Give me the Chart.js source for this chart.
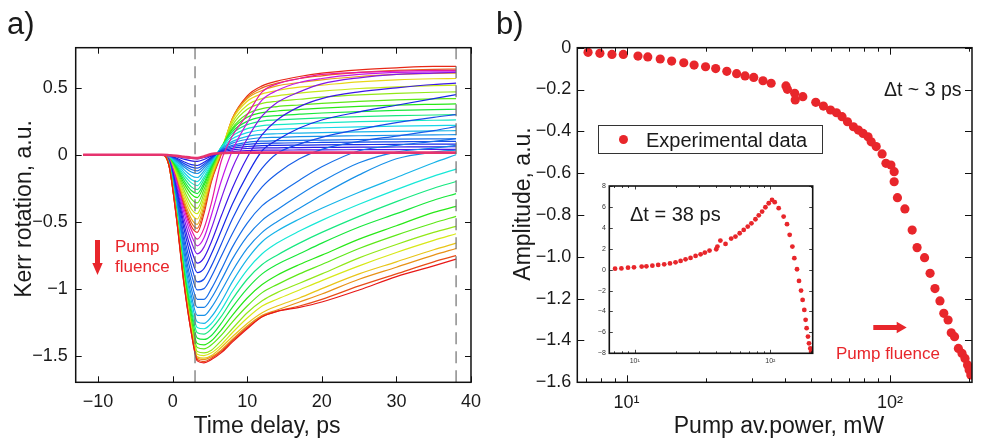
<!DOCTYPE html>
<html>
<head>
<meta charset="utf-8">
<script src="https://cdn.jsdelivr.net/npm/chart.js@4.4.1/dist/chart.umd.min.js"></script>
<style>
  body { margin: 0; background: #fff; }
  #wrap { position: relative; width: 982px; height: 443px; overflow: hidden;
          font-family: 'Liberation Sans', Arial, sans-serif; color: #1a1a1a; }
  canvas { position: absolute; }
  .t { position: absolute; white-space: nowrap; line-height: 1; }
  .red { color: #e8262b; }
  .rot { transform: translate(-50%, -50%) rotate(-90deg); }
  .ctr { transform: translateX(-50%); }
  svg { position: absolute; }
  #legend { position: absolute; left: 598px; top: 125px; width: 225px; height: 29px;
            border: 1px solid #333; box-sizing: border-box; background: #fff; }
  #legend i { position: absolute; left: 20px; top: 9px; width: 9px; height: 9px;
              border-radius: 50%; background: #e8262b; }
</style>
</head>
<body>
<div id="wrap">
  <canvas id="kerr" width="490" height="443" style="left:0;top:0"></canvas>
  <canvas id="amp" width="492" height="443" style="left:490px;top:0"></canvas>

  <div class="t" style="left:7px;top:8px;font-size:31px">a)</div>
  <div class="t" style="left:496px;top:8px;font-size:31px">b)</div>

  <div class="t rot" style="left:22.5px;top:209px;font-size:23px">Kerr rotation, a.u.</div>
  <div class="t ctr" style="left:267px;top:414px;font-size:23px">Time delay, ps</div>
  <div class="t rot" style="left:522px;top:204px;font-size:23px">Amplitude, a.u.</div>
  <div class="t ctr" style="left:779px;top:414px;font-size:23px">Pump av.power, mW</div>

  <svg style="left:90px;top:238px" width="16" height="40">
    <path d="M5 2 H10 V25 H12.7 L7.5 37 L2.3 25 H5 Z" fill="#e8262b"/>
  </svg>
  <div class="t red" style="left:115px;top:238px;font-size:17px">Pump</div>
  <div class="t red" style="left:115px;top:258px;font-size:17px">fluence</div>

  <div class="t" style="left:884px;top:80px;font-size:19.5px">Δt ~ 3 ps</div>
  <div id="legend"><i></i><span class="t" style="left:47px;top:4px;font-size:20px">Experimental data</span></div>

  <canvas id="inset" width="250" height="200" style="left:570px;top:176px"></canvas>
  <div class="t" style="left:630px;top:204px;font-size:20px">Δt = 38 ps</div>

  <svg style="left:870px;top:318px" width="40" height="20">
    <path d="M3.3 7 H26.7 V3.7 L36.7 9.5 L26.7 15.3 V12 H3.3 Z" fill="#e8262b"/>
  </svg>
  <div class="t red" style="left:836px;top:345px;font-size:17px">Pump fluence</div>
</div>

<script>
// ---- panel a: Kerr rotation vs time delay (ps) ----
const delay = [-12, -1.5, -0.5, 0.5, 1.5, 2.5, 3.3, 4.2, 5.2, 6.5, 8, 10, 12, 14, 17, 20, 25, 30, 35, 38];
const delayTicks = [-10, 0, 10, 20, 30, 40];
const kerrTicks = [-1.5, -1, -0.5, 0, 0.5];

// low fluence traces: shallow dip, positive plateau
const lowFluence = [
  [0, 0, -0.002, -0.01, -0.02, -0.028, -0.03, -0.02, -0.005, 0.012, 0.024, 0.031, 0.034, 0.035, 0.036, 0.037, 0.038, 0.039, 0.04, 0.04],
  [0, 0, -0.003, -0.015, -0.033, -0.046, -0.05, -0.035, -0.01, 0.018, 0.036, 0.047, 0.051, 0.052, 0.054, 0.055, 0.057, 0.058, 0.059, 0.06],
  [0, 0, -0.004, -0.024, -0.052, -0.074, -0.08, -0.056, -0.018, 0.024, 0.048, 0.062, 0.068, 0.07, 0.072, 0.074, 0.076, 0.078, 0.079, 0.08],
  [0, 0, -0.005, -0.03, -0.065, -0.092, -0.1, -0.07, -0.024, 0.03, 0.06, 0.078, 0.085, 0.087, 0.09, 0.092, 0.095, 0.097, 0.099, 0.1],
  [0, 0, -0.006, -0.036, -0.078, -0.11, -0.12, -0.084, -0.03, 0.034, 0.07, 0.093, 0.102, 0.105, 0.108, 0.11, 0.114, 0.117, 0.119, 0.12],
  [0, 0, -0.007, -0.042, -0.091, -0.129, -0.14, -0.1, -0.036, 0.04, 0.087, 0.115, 0.127, 0.13, 0.135, 0.138, 0.142, 0.146, 0.149, 0.15],
  [0, 0, -0.008, -0.05, -0.11, -0.156, -0.17, -0.12, -0.045, 0.045, 0.1, 0.138, 0.152, 0.157, 0.162, 0.166, 0.171, 0.175, 0.178, 0.18],
  [0, 0, -0.01, -0.06, -0.13, -0.184, -0.2, -0.14, -0.055, 0.05, 0.12, 0.165, 0.185, 0.19, 0.197, 0.202, 0.209, 0.214, 0.218, 0.22],
  [0, 0, -0.012, -0.07, -0.15, -0.21, -0.23, -0.165, -0.065, 0.055, 0.14, 0.195, 0.218, 0.225, 0.232, 0.238, 0.247, 0.253, 0.258, 0.26],
  [0, 0, -0.013, -0.078, -0.17, -0.24, -0.26, -0.185, -0.075, 0.055, 0.16, 0.225, 0.252, 0.26, 0.268, 0.275, 0.285, 0.292, 0.297, 0.3],
  [0, 0, -0.015, -0.087, -0.19, -0.267, -0.29, -0.21, -0.085, 0.055, 0.175, 0.25, 0.283, 0.293, 0.303, 0.312, 0.323, 0.331, 0.337, 0.34],
  [0, 0, -0.016, -0.096, -0.21, -0.294, -0.32, -0.23, -0.095, 0.05, 0.19, 0.28, 0.315, 0.327, 0.338, 0.348, 0.361, 0.371, 0.377, 0.38],
  [0, 0, -0.018, -0.108, -0.234, -0.33, -0.36, -0.26, -0.11, 0.045, 0.2, 0.305, 0.345, 0.36, 0.372, 0.384, 0.399, 0.41, 0.417, 0.42],
  [0, 0, -0.02, -0.12, -0.26, -0.368, -0.4, -0.29, -0.125, 0.04, 0.22, 0.34, 0.384, 0.4, 0.415, 0.43, 0.447, 0.459, 0.467, 0.47],
  [0, 0, -0.022, -0.132, -0.286, -0.405, -0.44, -0.32, -0.14, 0.035, 0.24, 0.37, 0.42, 0.44, 0.46, 0.475, 0.495, 0.508, 0.517, 0.52],
  [0, 0, -0.024, -0.144, -0.312, -0.44, -0.48, -0.35, -0.16, 0.03, 0.26, 0.4, 0.455, 0.48, 0.505, 0.52, 0.545, 0.56, 0.568, 0.57],
  [0, 0, -0.026, -0.156, -0.338, -0.478, -0.52, -0.38, -0.175, 0.02, 0.27, 0.42, 0.48, 0.515, 0.54, 0.56, 0.585, 0.6, 0.608, 0.61],
  [0, 0, -0.028, -0.165, -0.357, -0.506, -0.55, -0.41, -0.19, 0.01, 0.27, 0.43, 0.5, 0.535, 0.57, 0.59, 0.615, 0.63, 0.638, 0.64],
  [0, 0, -0.029, -0.174, -0.377, -0.534, -0.58, -0.44, -0.2, 0.0, 0.27, 0.44, 0.515, 0.55, 0.585, 0.61, 0.635, 0.65, 0.66, 0.66]
];

// high fluence traces: deep dip, slow recovery
const highFluence = [
  [0, 0, -0.03, -0.19, -0.4, -0.56, -0.63, -0.55, -0.36, -0.05, 0.14, 0.3, 0.47, 0.53, 0.57, 0.6, 0.615, 0.625, 0.63, 0.63],
  [0, 0, -0.03, -0.21, -0.43, -0.6, -0.68, -0.62, -0.45, -0.2, 0.03, 0.24, 0.41, 0.48, 0.54, 0.57, 0.6, 0.615, 0.62, 0.62],
  [0, 0, -0.04, -0.23, -0.47, -0.65, -0.74, -0.69, -0.55, -0.33, -0.1, 0.12, 0.29, 0.39, 0.47, 0.53, 0.575, 0.6, 0.61, 0.615],
  [0, 0, -0.04, -0.25, -0.51, -0.71, -0.81, -0.77, -0.65, -0.46, -0.25, -0.02, 0.15, 0.26, 0.36, 0.42, 0.47, 0.5, 0.525, 0.535],
  [0, 0, -0.04, -0.27, -0.55, -0.77, -0.88, -0.85, -0.74, -0.57, -0.37, -0.15, 0.03, 0.11, 0.2, 0.26, 0.32, 0.37, 0.42, 0.45],
  [0, 0, -0.05, -0.29, -0.6, -0.83, -0.95, -0.93, -0.83, -0.67, -0.48, -0.27, -0.1, 0.01, 0.08, 0.13, 0.19, 0.24, 0.28, 0.3],
  [0, 0, -0.05, -0.31, -0.64, -0.89, -1.01, -1.0, -0.91, -0.76, -0.59, -0.39, -0.24, -0.14, -0.03, 0.04, 0.1, 0.14, 0.18, 0.21],
  [0, 0, -0.06, -0.33, -0.68, -0.95, -1.08, -1.08, -1.0, -0.86, -0.69, -0.51, -0.38, -0.3, -0.19, -0.09, 0.03, 0.07, 0.1, 0.12],
  [0, 0, -0.06, -0.35, -0.72, -1.0, -1.14, -1.14, -1.07, -0.94, -0.78, -0.61, -0.49, -0.41, -0.3, -0.2, -0.06, 0.02, 0.05, 0.07],
  [0, 0, -0.06, -0.37, -0.76, -1.05, -1.2, -1.2, -1.14, -1.02, -0.87, -0.7, -0.58, -0.5, -0.4, -0.3, -0.15, -0.03, 0.02, 0.035],
  [0, 0, -0.06, -0.38, -0.79, -1.09, -1.25, -1.26, -1.21, -1.1, -0.95, -0.78, -0.65, -0.57, -0.48, -0.4, -0.28, -0.17, -0.06, 0.0],
  [0, 0, -0.07, -0.39, -0.81, -1.13, -1.29, -1.3, -1.26, -1.16, -1.02, -0.86, -0.74, -0.66, -0.57, -0.49, -0.37, -0.26, -0.16, -0.107],
  [0, 0, -0.07, -0.41, -0.84, -1.16, -1.33, -1.34, -1.3, -1.21, -1.08, -0.93, -0.82, -0.75, -0.66, -0.58, -0.46, -0.35, -0.25, -0.2],
  [0, 0, -0.07, -0.42, -0.86, -1.19, -1.37, -1.38, -1.35, -1.26, -1.14, -1.0, -0.89, -0.82, -0.74, -0.66, -0.54, -0.44, -0.34, -0.29],
  [0, 0, -0.07, -0.43, -0.89, -1.23, -1.41, -1.42, -1.39, -1.31, -1.2, -1.07, -0.97, -0.9, -0.82, -0.75, -0.63, -0.53, -0.43, -0.386],
  [0, 0, -0.07, -0.44, -0.91, -1.25, -1.44, -1.45, -1.42, -1.35, -1.25, -1.13, -1.03, -0.97, -0.89, -0.82, -0.7, -0.6, -0.51, -0.46],
  [0, 0, -0.07, -0.45, -0.92, -1.27, -1.47, -1.48, -1.46, -1.39, -1.3, -1.18, -1.09, -1.03, -0.96, -0.89, -0.77, -0.67, -0.58, -0.535],
  [0, 0, -0.08, -0.45, -0.93, -1.29, -1.49, -1.5, -1.48, -1.42, -1.33, -1.22, -1.13, -1.08, -1.01, -0.94, -0.83, -0.73, -0.64, -0.59],
  [0, 0, -0.08, -0.46, -0.94, -1.31, -1.51, -1.52, -1.5, -1.44, -1.36, -1.26, -1.18, -1.13, -1.07, -1.0, -0.89, -0.8, -0.71, -0.66],
  [0, 0, -0.08, -0.46, -0.95, -1.32, -1.52, -1.53, -1.51, -1.46, -1.38, -1.28, -1.2, -1.16, -1.1, -1.04, -0.93, -0.84, -0.75, -0.7],
  [0, 0, -0.08, -0.47, -0.95, -1.33, -1.53, -1.545, -1.52, -1.47, -1.39, -1.29, -1.21, -1.17, -1.13, -1.08, -0.98, -0.89, -0.8, -0.754],
  [0, 0, -0.08, -0.47, -0.96, -1.33, -1.54, -1.555, -1.53, -1.48, -1.4, -1.3, -1.21, -1.17, -1.14, -1.1, -1.01, -0.91, -0.83, -0.78]
];

// near-flat trace drawn on top
const baseline = [0, 0, -0.003, -0.008, -0.015, -0.022, -0.025, -0.012, 0.005, 0.012, 0.015, 0.016, 0.016, 0.016, 0.016, 0.016, 0.016, 0.016, 0.016, 0.016];
const markerDelays = [3, 38];

// ---- panel b: amplitude vs pump power (mW) ----
const powerMain = [7.14, 7.92, 8.80, 9.72, 11.05, 12.04, 13.42, 14.83, 16.49, 18.05, 19.95, 21.8, 24.03, 26.18, 28.18, 30.4, 32.96, 35.4, 40.3, 40.8,
  43.5, 43.7, 46.7, 52.3, 55.9, 59.5, 62.7, 65.8, 69.0, 72.7, 75.9, 79.1, 82.6, 84.9, 88.7, 93.4, 96.6, 100.9, 103.8, 103.8,
  106.8, 114.0, 121.5, 126.8, 135.4, 142.1, 148.3, 154.9, 160.2, 166.3, 171.0, 176.0, 182.0, 187.9, 192.8, 197.2, 200.0, 202.9];
const ampMain = [-0.022, -0.027, -0.032, -0.032, -0.04, -0.044, -0.054, -0.064, -0.072, -0.083, -0.091, -0.1, -0.113, -0.124, -0.135, -0.142, -0.158, -0.17, -0.183, -0.199,
  -0.218, -0.25, -0.234, -0.261, -0.279, -0.298, -0.311, -0.33, -0.354, -0.378, -0.394, -0.41, -0.426, -0.45, -0.473, -0.508, -0.553, -0.561, -0.593, -0.641,
  -0.717, -0.771, -0.872, -0.956, -1.004, -1.079, -1.152, -1.211, -1.27, -1.302, -1.363, -1.382, -1.438, -1.462, -1.486, -1.517, -1.541, -1.565];
const ampTicks = [-1.6, -1.4, -1.2, -1.0, -0.8, -0.6, -0.4, -0.2, 0];

// inset, dt = 38 ps
const powerInset = [7.17, 7.98, 8.93, 9.88, 11.26, 12.2, 13.5, 14.9, 16.5, 18.2, 20.0, 21.8, 23.7, 25.8, 28.1, 30.6, 32.9, 35.6, 39.9, 40.7,
  42.8, 46.7, 51.4, 55.3, 59.4, 63.6, 68.1, 72.5, 77.6, 82.1, 86.9, 91.9, 97.2, 102.8, 107.6, 115.1, 125.2, 132.6, 138.7, 145.2,
  150.1, 157.1, 162.5, 168.2, 172.8, 177.8, 181.8, 184.9, 189.2, 192.5, 196.8, 199.8];
const ampInset = [0.09, 0.12, 0.19, 0.22, 0.29, 0.32, 0.38, 0.45, 0.51, 0.6, 0.7, 0.83, 0.99, 1.12, 1.31, 1.47, 1.63, 1.82, 1.95, 2.21,
  2.78, 2.46, 2.97, 3.16, 3.48, 3.8, 4.12, 4.43, 4.82, 5.2, 5.55, 5.97, 6.35, 6.67, 6.45, 5.88, 5.08, 4.35, 3.33, 2.21,
  1.1, 0.04, -1.08, -2.0, -2.9, -3.85, -4.8, -5.6, -6.4, -7.05, -7.53, -7.85];
const insetTicks = [-8, -6, -4, -2, 0, 2, 4, 6, 8];

const decadeLabels = { 10: '10\u00b9', 100: '10\u00b2' };

// line colours (hue per trace)
const hueLow = [255, 245, 235, 225, 215, 205, 195, 185, 170, 150, 130, 115, 100, 85, 70, 55, 40, 22, 5];
const hueHigh = [320, 290, 270, 250, 235, 225, 220, 215, 210, 205, 195, 175, 150, 130, 115, 100, 85, 65, 50, 35, 15, 0];

Chart.defaults.font.family = "'Liberation Sans', Arial, sans-serif";
Chart.defaults.color = '#1a1a1a';

const minus = s => String(s).replace('-', '\u2212');
const fixTicks = list => s => { s.ticks = list.map(v => ({ value: v })); };

// box around plot area with inward ticks on all four sides
const framePlugin = {
  id: 'frame',
  beforeDatasetsDraw(chart, args, o) {
    if (!o.fill) return;
    const a = chart.chartArea;
    chart.ctx.save();
    chart.ctx.fillStyle = o.fill;
    chart.ctx.fillRect(a.left, a.top, a.right - a.left, a.bottom - a.top);
    chart.ctx.restore();
  },
  afterDatasetsDraw(chart, args, o) {
    const { ctx, chartArea: a, scales } = chart;
    const marks = (s) => {
      if (s.type !== 'logarithmic') return s.ticks.map(t => [t.value, o.tick]);
      const out = [];
      for (let e = -1; e < 4; e++) {
        for (let k = 1; k < 10; k++) {
          const v = k * Math.pow(10, e);
          if (v > s.min && v < s.max) out.push([v, k === 1 ? o.tick : o.minor]);
        }
      }
      return out;
    };
    ctx.save();
    ctx.strokeStyle = '#111';
    ctx.lineWidth = o.width;
    ctx.beginPath();
    marks(scales.x).forEach(([v, len]) => {
      const p = Math.round(scales.x.getPixelForValue(v)) + 0.5;
      ctx.moveTo(p, a.bottom); ctx.lineTo(p, a.bottom - len);
      ctx.moveTo(p, a.top); ctx.lineTo(p, a.top + len);
    });
    marks(scales.y).forEach(([v, len]) => {
      const p = Math.round(scales.y.getPixelForValue(v)) + 0.5;
      ctx.moveTo(a.left, p); ctx.lineTo(a.left + len, p);
      ctx.moveTo(a.right, p); ctx.lineTo(a.right - len, p);
    });
    ctx.stroke();
    ctx.lineWidth = o.border;
    ctx.strokeRect(a.left, a.top, a.right - a.left, a.bottom - a.top);
    ctx.restore();
  }
};

function axis(opts, fit) {
  return Object.assign({
    grid: { display: false, drawTicks: false },
    border: { display: false },
    afterFit: fit
  }, opts);
}

// panel a: low fluence drawn high-to-low so the faster traces sit on top of the rising edge
const kerrSets = [];
for (let i = lowFluence.length - 1; i >= 0; i--) {
  kerrSets.push({ row: lowFluence[i], color: `hsl(${hueLow[i]}, 82%, 50%)`, width: 1.2 });
}
highFluence.forEach((row, i) => kerrSets.push({ row, color: `hsl(${hueHigh[i]}, 82%, 50%)`, width: 1.2 }));
kerrSets.push({ row: baseline, color: 'hsl(340, 78%, 55%)', width: 2.6 });

const kerrData = kerrSets.map((s, i) => ({
  data: delay.map((t, j) => ({ x: t, y: s.row[j] })),
  borderColor: s.color,
  borderWidth: s.width,
  pointRadius: 0,
  cubicInterpolationMode: 'monotone',
  order: 1000 - i
}));
markerDelays.forEach(t => kerrData.push({
  data: [{ x: t, y: -1.7 }, { x: t, y: 0.8 }],
  borderColor: '#6e6e6e',
  borderWidth: 1.2,
  borderDash: [12, 7],
  pointRadius: 0,
  order: 0
}));

new Chart(document.getElementById('kerr'), {
  type: 'line',
  data: { datasets: kerrData },
  options: {
    responsive: false,
    animation: false,
    events: [],
    layout: { padding: { left: 0, top: 47.7, right: 7.3, bottom: 0 }, autoPadding: false },
    plugins: { legend: { display: false }, tooltip: { enabled: false },
               frame: { tick: 6, minor: 3, width: 1, border: 1.5 } },
    scales: {
      x: axis({ type: 'linear', min: -13, max: 40, afterBuildTicks: fixTicks(delayTicks),
        ticks: { padding: 9, maxRotation: 0, font: { size: 18 }, color: '#1a1a1a',
                 callback: v => minus(v) } }, s => { s.height = 60.7; }),
      y: axis({ type: 'linear', min: -1.7, max: 0.8, afterBuildTicks: fixTicks(kerrTicks),
        ticks: { padding: 8, font: { size: 18 }, color: '#1a1a1a',
                 callback: v => minus(v) } }, s => { s.width = 75.7; })
    }
  },
  plugins: [framePlugin]
});

// panel b
new Chart(document.getElementById('amp'), {
  type: 'scatter',
  data: { datasets: [{
    data: powerMain.map((p, i) => ({ x: p, y: ampMain[i] })),
    backgroundColor: '#e8262b',
    borderWidth: 0,
    pointRadius: 4.6
  }] },
  options: {
    responsive: false,
    animation: false,
    events: [],
    layout: { padding: { left: 0, top: 47.7, right: 1, bottom: 0 }, autoPadding: false },
    plugins: { legend: { display: false }, tooltip: { enabled: false },
               frame: { tick: 7, minor: 4, width: 1, border: 1.5 } },
    scales: {
      x: axis({ type: 'logarithmic', min: 6.5, max: 205,
        ticks: { autoSkip: false, maxRotation: 0, padding: 10, font: { size: 18 }, color: '#1a1a1a',
                 callback: v => decadeLabels[v] || '' } }, s => { s.height = 60.7; }),
      y: axis({ type: 'linear', min: -1.6, max: 0, afterBuildTicks: fixTicks(ampTicks),
        ticks: { padding: 6, font: { size: 18 }, color: '#1a1a1a',
                 callback: v => v === 0 ? '0' : minus(v.toFixed(1)) } }, s => { s.width = 87.3; })
    }
  },
  plugins: [framePlugin]
});

// inset
new Chart(document.getElementById('inset'), {
  type: 'scatter',
  data: { datasets: [{
    data: powerInset.map((p, i) => ({ x: p, y: ampInset[i] })),
    backgroundColor: '#e8262b',
    borderWidth: 0,
    pointRadius: 2.4
  }] },
  options: {
    responsive: false,
    animation: false,
    events: [],
    layout: { padding: { left: 0, top: 10, right: 7.3, bottom: 0 }, autoPadding: false },
    plugins: { legend: { display: false }, tooltip: { enabled: false },
               frame: { tick: 3.5, minor: 2, width: 0.8, border: 1.6, fill: '#fff' } },
    scales: {
      x: axis({ type: 'logarithmic', min: 6.5, max: 205,
        ticks: { autoSkip: false, maxRotation: 0, padding: 4, font: { size: 7 }, color: '#333',
                 callback: v => decadeLabels[v] || '' } }, s => { s.height = 22.7; }),
      y: axis({ type: 'linear', min: -8, max: 8, afterBuildTicks: fixTicks(insetTicks),
        ticks: { padding: 3.5, font: { size: 7 }, color: '#333',
                 callback: v => minus(v) } }, s => { s.width = 39.3; })
    }
  },
  plugins: [framePlugin]
});
</script>
</body>
</html>
